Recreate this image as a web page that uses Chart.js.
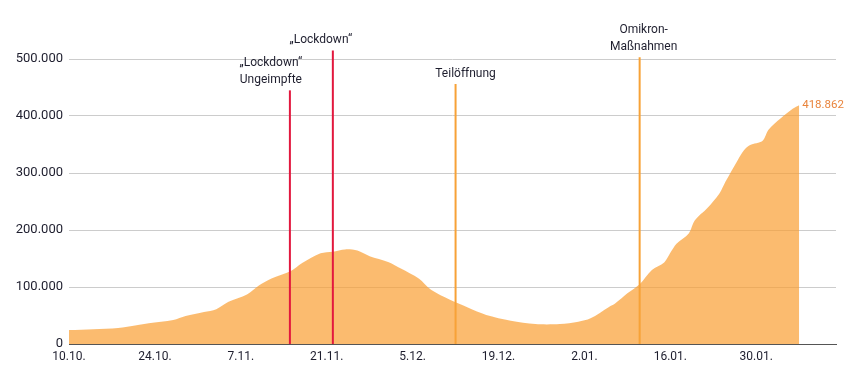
<!DOCTYPE html>
<html>
<head>
<meta charset="utf-8">
<script src="https://cdn.jsdelivr.net/npm/chart.js@4"></script>
<style>
  html, body { margin: 0; padding: 0; background: #fff; }
  #wrap { width: 856px; height: 366px; }
</style>
</head>
<body>
<div id="wrap"><canvas id="c" width="856" height="366"></canvas></div>
<script>
// ---- data (days since 10.10.2021) ----
const days = [0, 4, 8, 11, 13, 17, 19, 22, 24, 26, 29, 31, 33, 36, 38, 41, 43, 45, 47, 49, 52, 54, 57, 59, 62, 65, 68, 72, 76, 80, 83, 85, 88, 89, 91, 93, 95, 97, 98, 99, 101, 102, 104, 106, 107, 109, 110, 111, 113, 114, 116, 118, 119];
const values = [24500, 26000, 28000, 33000, 36500, 42000, 49000, 56000, 61000, 74000, 87000, 103000, 115000, 127000, 142000, 159000, 162000, 166000, 164000, 154000, 144000, 133000, 115000, 95000, 78000, 64000, 51000, 41000, 35000, 35000, 39000, 45000, 65000, 71000, 89000, 105000, 130000, 143000, 160000, 176000, 194000, 217000, 238000, 264000, 285000, 323000, 340000, 349000, 356000, 376000, 396000, 413000, 418862];

const tickDays = [0, 14, 28, 42, 56, 70, 84, 98, 112];
const tickLabels = ['10.10.', '24.10.', '7.11.', '21.11.', '5.12.', '19.12.', '2.01.', '16.01.', '30.01.'];

const eventDays = [36, 43, 63, 93];
const eventTops = [445000, 515000, 456000, 503000];
const eventLabels = [['„Lockdown“', 'Ungeimpfte'], ['„Lockdown“'], ['Teilöffnung'], ['Omikron-', 'Maßnahmen']];

// ---- styles ----
const eventColors = ['#e2183e', '#e2183e', '#f7a237', '#f7a237'];
const labelDx = [-19, -12, 10, 4];
const FONT = "Roboto, 'Liberation Sans', sans-serif";
const TEXT = '#1e1e2e';

function fmt(v) {
  return String(Math.round(v)).replace(/\B(?=(\d{3})+(?!\d))/g, '.');
}

const datasets = [{
  label: 'Aktive Fälle',
  data: days.map((d, i) => ({ x: d, y: values[i] })),
  fill: 'origin',
  backgroundColor: 'rgba(249,158,50,0.7)',
  borderWidth: 0,
  pointRadius: 0,
  tension: 0.3,
  order: 5
}];
eventDays.forEach((d, i) => {
  datasets.push({
    label: eventLabels[i].join(' '),
    data: [{ x: d, y: 0 }, { x: d, y: eventTops[i] }],
    borderColor: eventColors[i],
    borderWidth: 2,
    pointRadius: 0,
    fill: false,
    clip: false,
    order: 1
  });
});

const annotate = {
  id: 'annotate',
  afterDatasetsDraw(chart) {
    const ctx = chart.ctx;
    const xs = chart.scales.x, ys = chart.scales.y;
    ctx.save();
    ctx.font = '12px ' + FONT;
    ctx.fillStyle = TEXT;
    ctx.textAlign = 'center';
    ctx.textBaseline = 'middle';
    eventDays.forEach((d, i) => {
      const x = xs.getPixelForValue(d) + labelDx[i];
      const top = ys.getPixelForValue(eventTops[i]);
      const lines = eventLabels[i];
      lines.forEach((t, j) => {
        const y = top - 10 - (lines.length - 1 - j) * 17;
        ctx.fillText(t, x, y);
      });
    });
    // last value label
    const li = days.length - 1;
    ctx.font = '11.5px ' + FONT;
    ctx.fillStyle = '#e9843c';
    ctx.textAlign = 'left';
    ctx.fillText(fmt(values[li]), xs.getPixelForValue(days[li]) + 3, ys.getPixelForValue(values[li]));
    ctx.restore();
  }
};

new Chart(document.getElementById('c'), {
  type: 'line',
  data: { datasets },
  options: {
    responsive: false,
    animation: false,
    events: [],
    layout: { padding: { top: 59, right: 20, left: 0, bottom: 0 } },
    plugins: { legend: { display: false }, tooltip: { enabled: false } },
    scales: {
      x: {
        type: 'linear',
        min: 0,
        max: 125,
        afterBuildTicks(scale) { scale.ticks = tickDays.map(v => ({ value: v })); },
        afterFit(scale) { scale.height = 22; },
        grid: { display: false, drawTicks: false },
        border: { display: true, color: '#555', width: 1 },
        ticks: {
          padding: 6,
          maxRotation: 0,
          autoSkip: false,
          color: TEXT,
          font: { family: FONT, size: 12 },
          callback(v) { const i = tickDays.indexOf(v); return i >= 0 ? tickLabels[i] : ''; }
        }
      },
      y: {
        min: 0,
        max: 500000,
        afterFit(scale) { scale.width = 69; },
        grid: { color: '#cccccc', lineWidth: 1, drawTicks: false },
        border: { display: false },
        ticks: {
          stepSize: 100000,
          padding: 6,
          color: TEXT,
          font: { family: FONT, size: 13 },
          callback(v) { return fmt(v); }
        }
      }
    }
  },
  plugins: [annotate]
});
</script>
</body>
</html>
